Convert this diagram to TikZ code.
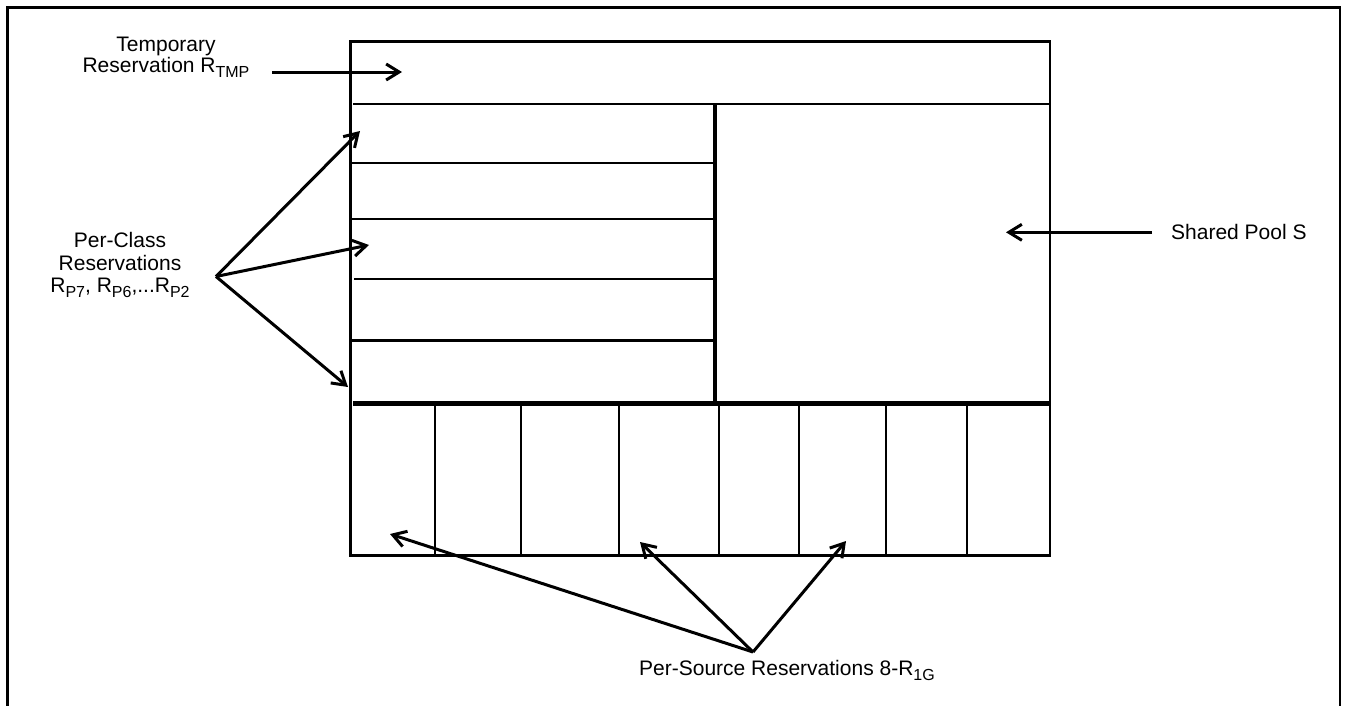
\documentclass[tikz,border=0pt]{standalone}
\usepackage{fontspec}
\setmainfont{Liberation Sans}
\usetikzlibrary{arrows.meta}
\newcommand{\lsub}[1]{\raisebox{-5pt}{\fontsize{16}{16}\selectfont #1}}
\begin{document}
\begin{tikzpicture}[x=1pt,y=-1pt,
  frameline/.style={line width=2.5pt, line cap=rect},
  cellline/.style={line width=2.5pt},
  heavyline/.style={line width=4.5pt},
  ptr/.style={line width=3pt, -{Straight Barb[length=13pt,width=16pt,line width=3pt]}},
  lbl/.style={inner sep=0pt, font=\fontsize{21}{20}\selectfont}]
\useasboundingbox (0,0) rectangle (1347,705);
\fill[white] (0,0) rectangle (1347,705);
% outer frame (no bottom edge)
\draw[frameline] (7.5,705) -- (7.5,7.5) -- (1340,7.5) -- (1340,705);
% main box
\draw[cellline] (350.5,41.5) rectangle (1050,555.5);
\draw[cellline] (353,104) -- (1050,104);
% per-class rows
\draw[cellline] (351,163) -- (713,163);
\draw[cellline] (351,219) -- (713,219);
\draw[cellline] (354,279) -- (713,279);
\draw[cellline] (351,340.5) -- (713,340.5);
\draw[heavyline] (715,104) -- (715,403.5);
\draw[heavyline] (353,403.5) -- (1050,403.5);
% per-source columns
\foreach \xx in {435,521,619,719,799,886,967}
  \draw[cellline] (\xx,405) -- (\xx,555.5);
% labels
\node[lbl, anchor=base] (tmp) at (166,51.7)
  {\begin{tabular}[t]{@{}c@{}}Temporary\\Reservation R\lsub{TMP}\end{tabular}};
\node[lbl, anchor=base, font=\fontsize{21}{22.7}\selectfont] (pclass) at (120,247.3)
  {\begin{tabular}[t]{@{}c@{}}Per-Class\\Reservations\\R\lsub{P7}, R\lsub{P6},...R\lsub{P2}\end{tabular}};
\node[lbl, anchor=base west] (pool) at (1171,239.5) {Shared Pool S};
\node[lbl, anchor=base west] (psrc) at (639,675) {Per-Source Reservations 8-R\lsub{1G}};
% arrow coordinates
\coordinate (tmpTail) at (272,72);
\coordinate (tmpTip) at (402,72);
\coordinate (pcApex) at (216,276.5);
\coordinate (pcA) at (360,131);
\coordinate (pcB) at (369,245);
\coordinate (pcC) at (348,387);
\coordinate (poolTail) at (1152,232.3);
\coordinate (poolTip) at (1006,232.3);
\coordinate (psApex) at (753,652);
\coordinate (psA) at (390,534);
\coordinate (psB) at (640,542);
\coordinate (psC) at (846,541);
% arrows
\draw[ptr] (tmpTail) -- (tmpTip);
\draw[ptr] (pcApex) -- (pcA);
\draw[ptr] (pcApex) -- (pcB);
\draw[ptr] (pcApex) -- (pcC);
\draw[ptr] (poolTail) -- (poolTip);
\draw[ptr] (psApex) -- (psA);
\draw[ptr] (psApex) -- (psB);
\draw[ptr] (psApex) -- (psC);
\end{tikzpicture}
\end{document}
